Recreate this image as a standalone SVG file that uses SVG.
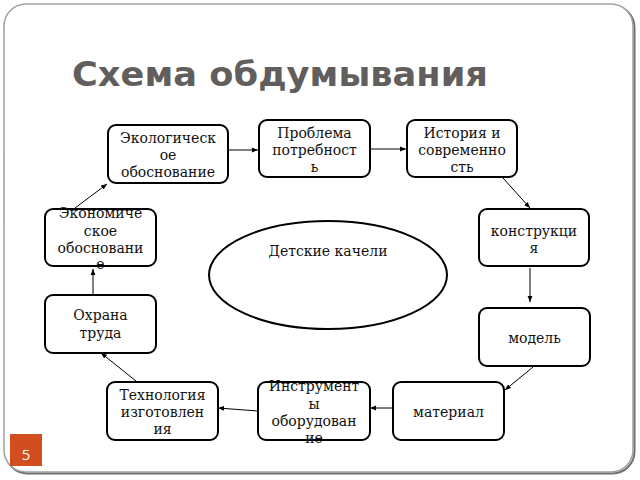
<svg xmlns="http://www.w3.org/2000/svg" width="640" height="480" viewBox="0 0 640 480">
<defs>
<marker id="arr" viewBox="0 0 10 10" refX="10" refY="5" markerWidth="6" markerHeight="6" markerUnits="userSpaceOnUse" orient="auto">
<path d="M0,1 L10,5 L0,9 Z" fill="#000"/>
</marker>
</defs>
<style>
.box{fill:#fff;stroke:#000;stroke-width:2}
.t{font-family:"DejaVu Serif","Liberation Serif",serif;font-size:14px;fill:#111;text-anchor:middle}
.c{stroke:#000;stroke-width:1;fill:none;marker-end:url(#arr)}
</style>
<rect x="0" y="0" width="640" height="480" fill="#fff"/>
<rect x="5.5" y="5.5" width="629" height="468" rx="22" fill="none" stroke="#6f6f6f" stroke-width="2"/>
<rect x="4" y="4" width="629" height="468" rx="22" fill="#fff" stroke="#a0a0a0" stroke-width="1.5"/>
<text x="72" y="86" font-family="'DejaVu Sans','Liberation Sans',sans-serif" font-weight="bold" font-size="33" fill="#625e5d" textLength="416" lengthAdjust="spacingAndGlyphs">Схема обдумывания</text>
<rect x="10" y="434" width="32" height="32" fill="#d24e1e"/>
<text x="26" y="460" font-family="'Open Sans','DejaVu Sans',sans-serif" font-size="15" fill="#fff" text-anchor="middle">5</text>

<g id="connectors">
<line class="c" x1="229" y1="150" x2="258" y2="150"/>
<line class="c" x1="371" y1="149" x2="406" y2="149"/>
<line class="c" x1="503" y1="178" x2="530" y2="208"/>
<line class="c" x1="530" y1="268" x2="530" y2="302"/>
<line class="c" x1="533" y1="367" x2="505" y2="390"/>
<line class="c" x1="393" y1="408" x2="370" y2="408"/>
<line class="c" x1="258" y1="411" x2="218" y2="408"/>
<line class="c" x1="136" y1="381" x2="101" y2="353"/>
<line class="c" x1="93" y1="295" x2="93" y2="269"/>
<line class="c" x1="75" y1="208" x2="107" y2="184"/>
</g>

<g id="ecolog">
<rect class="box" x="108" y="125" width="120" height="58" rx="8"/>
<text class="t" x="168" y="143">Экологическ</text>
<text class="t" x="168" y="160">ое</text>
<text class="t" x="168" y="177">обоснование</text>
</g>
<g id="problema">
<rect class="box" x="259" y="120" width="111" height="57" rx="8"/>
<text class="t" x="314.5" y="138">Проблема</text>
<text class="t" x="314.5" y="155">потребност</text>
<text class="t" x="314.5" y="172">ь</text>
</g>
<g id="istoriya">
<rect class="box" x="407" y="120" width="110" height="57" rx="8"/>
<text class="t" x="462" y="138">История и</text>
<text class="t" x="462" y="155">современно</text>
<text class="t" x="462" y="172">сть</text>
</g>
<g id="konstr">
<rect class="box" x="479" y="209" width="110" height="57" rx="8"/>
<text class="t" x="534" y="236">конструкци</text>
<text class="t" x="534" y="253">я</text>
</g>
<g id="model">
<rect class="box" x="479" y="308" width="111" height="58" rx="8"/>
<text class="t" x="534.5" y="343">модель</text>
</g>
<g id="material">
<rect class="box" x="393" y="382" width="111" height="58" rx="8"/>
<text class="t" x="448.5" y="417">материал</text>
</g>
<g id="instr">
<rect class="box" x="258" y="382" width="112" height="58" rx="8"/>
<text class="t" x="314" y="391">Инструмент</text>
<text class="t" x="314" y="409">ы</text>
<text class="t" x="314" y="426">оборудован</text>
<text class="t" x="314" y="443">ие</text>
</g>
<g id="tehn">
<rect class="box" x="107" y="382" width="111" height="58" rx="8"/>
<text class="t" x="162.5" y="400">Технология</text>
<text class="t" x="162.5" y="417">изготовлен</text>
<text class="t" x="162.5" y="434">ия</text>
</g>
<g id="ohrana">
<rect class="box" x="45" y="295" width="111" height="58" rx="8"/>
<text class="t" x="100.5" y="320">Охрана</text>
<text class="t" x="100.5" y="338">труда</text>
</g>
<g id="ekonom">
<rect class="box" x="45" y="209" width="111" height="57" rx="8"/>
<text class="t" x="100.5" y="218">Экономиче</text>
<text class="t" x="100.5" y="236">ское</text>
<text class="t" x="100.5" y="253">обосновани</text>
<text class="t" x="100.5" y="269">е</text>
</g>
<g id="center">
<ellipse cx="328" cy="275" rx="119" ry="54" fill="#fff" stroke="#000" stroke-width="2"/>
<text class="t" x="328" y="256">Детские качели</text>
</g>
</svg>
